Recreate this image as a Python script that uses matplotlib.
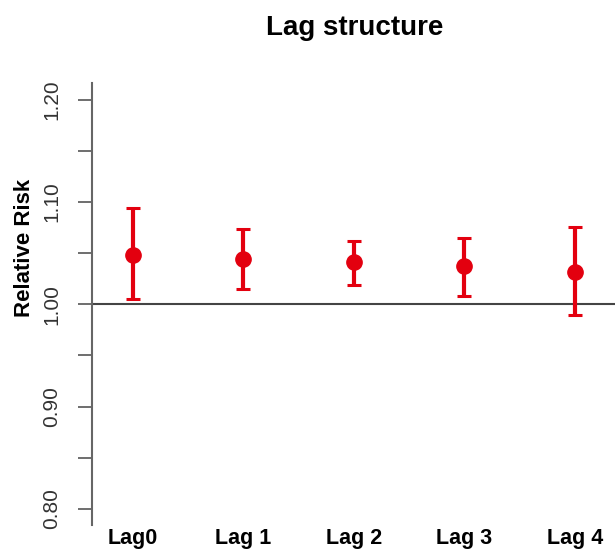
import matplotlib.pyplot as plt
import numpy as np

plt.rcParams['font.family'] = ['Liberation Sans', 'DejaVu Sans']

# Relative risk estimates with 95% CI
lags = ['Lag0', 'Lag 1', 'Lag 2', 'Lag 3', 'Lag 4']
rr = [1.048, 1.044, 1.041, 1.037, 1.032]
ci_low = [1.005, 1.015, 1.019, 1.008, 0.990]
ci_high = [1.094, 1.074, 1.062, 1.065, 1.076]

yticks = [0.80, 0.85, 0.90, 0.95, 1.00, 1.05, 1.10, 1.15, 1.20]
ytick_labels = ['0.80', '', '0.90', '', '1.00', '', '1.10', '', '1.20']

red = '#e3000f'

fig = plt.figure(figsize=(6.15, 5.51), dpi=100)
ax = fig.add_axes([92 / 615, 1 - 525 / 551, 1 - 92 / 615, (525 - 83) / 551])

x = np.arange(1, len(lags) + 1)
rr = np.array(rr)
yerr = [rr - np.array(ci_low), np.array(ci_high) - rr]

# reference line at RR = 1
ax.axhline(1.0, color='#444444', linewidth=1.5, zorder=1)

ax.errorbar(x, rr, yerr=yerr, fmt='o', color=red, ecolor=red,
            markersize=11, elinewidth=3, capsize=5, capthick=2.2, zorder=3)

ax.set_xlim(0.629, 5.362)
ax.set_ylim(0.7843, 1.2163)

ax.set_yticks(yticks)
ax.set_yticklabels(ytick_labels, rotation=90, va='center', fontsize=15, color='#333333')
ax.tick_params(axis='y', length=10, width=1.2, color='#555555', pad=12)

ax.set_xticks(x)
ax.set_xticklabels(lags, fontsize=15.5, fontweight='bold')
ax.tick_params(axis='x', length=0, pad=2.5)

for side in ['top', 'right', 'bottom']:
    ax.spines[side].set_visible(False)
ax.spines['left'].set_color('#666666')
ax.spines['left'].set_linewidth(1.5)

fig.text(355 / 615, 1 - 28 / 551, 'Lag structure', ha='center', va='center',
         fontsize=20, fontweight='bold')
fig.text(25 / 615, 1 - 248 / 551, 'Relative Risk', ha='center', va='center',
         rotation=90, fontsize=16, fontweight='bold')

plt.savefig('out.png', dpi=100)
